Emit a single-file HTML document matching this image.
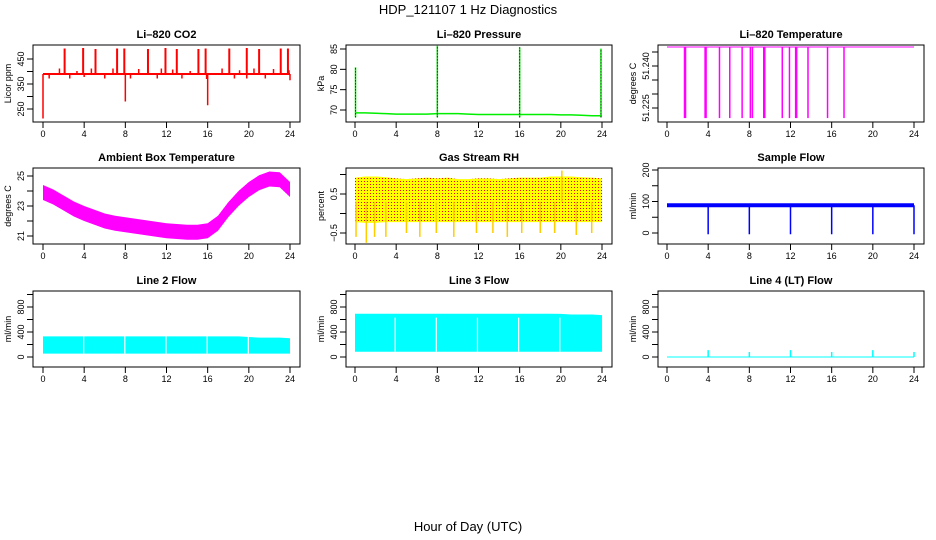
<!DOCTYPE html>
<html><head><meta charset="utf-8"><style>
body{margin:0;background:#fff;}
svg{display:block;font-family:"Liberation Sans",sans-serif;}
</style></head><body>
<svg id="fig" width="936" height="540" viewBox="0 0 936 540">
<defs>
<pattern id="rhpat" width="3" height="3" patternUnits="userSpaceOnUse">
<rect width="3" height="3" fill="#ffff00"/><rect x="1" y="1" width="1" height="1" fill="#ff0000"/>
</pattern>
</defs>
<text x="468" y="14" text-anchor="middle" font-size="13">HDP_121107  1 Hz Diagnostics</text>
<text x="468" y="531" text-anchor="middle" font-size="13">Hour of Day (UTC)</text>
</svg>
<script>
// ---- data (hours 0..24) ----
const xTicks = [0,4,8,12,16,20,24];
const hours = [0,1,2,3,4,5,6,7,8,9,10,11,12,13,14,15,16,17,18,19,20,21,22,23,24];
// CO2
const co2Base = 390;
const co2SpikeT = [2.1,3.9,5.1,7.2,7.9,10.2,11.9,13.0,15.1,15.8,18.1,19.8,21.0,23.1,23.8];
const co2SpikeV = [492,494,490,492,492,490,494,490,490,492,492,494,490,492,492];
const co2BumpT = [1.6,3.3,4.7,6.8,9.3,11.5,12.6,14.3,17.4,19.1,20.5,22.4,23.9];
const co2BumpV = [412,402,412,412,410,412,408,402,412,405,412,410,405];
const co2DipT = [0.0,0.6,2.6,4.0,6.0,8.0,8.5,11.1,13.5,15.9,16.0,18.6,19.8,21.6,24.0];
const co2DipV = [212,372,372,378,372,280,372,372,372,370,265,372,372,372,365];
// Pressure
const presBase = [69.3,69.3,69.2,69.1,69.0,69.0,69.0,69.0,69.1,69.1,69.1,69.0,68.9,68.9,68.9,68.9,68.9,68.9,68.9,68.9,68.8,68.8,68.7,68.6,68.6];
const presSpikeT = [0.05,8.0,16.0,23.9];
const presSpikeV = [80.5,85.8,85.4,85.1];
// Li-820 temperature
const tempBase = 51.2468;
const tempDropT = [1.7,1.8,3.7,3.8,5.1,6.1,7.3,8.1,8.3,9.4,9.5,11.2,11.9,12.5,12.6,13.7,15.6,17.2];
const tempDropV = 51.2214;
// Ambient box temperature
const ambCenter = [23.9,23.6,23.2,22.8,22.5,22.25,22.0,21.85,21.75,21.65,21.55,21.45,21.35,21.3,21.25,21.25,21.35,21.85,22.75,23.5,24.1,24.55,24.8,24.75,24.1];
const ambHalf = 0.5;
// Gas stream RH
const rhHi = [0.92,0.95,0.95,0.93,0.9,0.88,0.9,0.92,0.9,0.92,0.88,0.88,0.9,0.9,0.88,0.9,0.92,0.92,0.92,0.95,0.95,0.95,0.93,0.92,0.9];
const rhLo = [-0.22,-0.24,-0.24,-0.22,-0.22,-0.22,-0.22,-0.22,-0.22,-0.22,-0.22,-0.22,-0.22,-0.22,-0.22,-0.22,-0.22,-0.22,-0.22,-0.22,-0.22,-0.22,-0.22,-0.22,-0.22];
const rhSpikeT = [0.1,1.1,1.9,3.0,5.0,6.3,7.9,9.6,11.8,13.4,14.8,16.2,18.0,19.4,20.1,21.5,23.0];
const rhSpikeV = [-0.6,-0.75,-0.6,-0.6,-0.5,-0.6,-0.5,-0.6,-0.5,-0.5,-0.6,-0.5,-0.5,-0.5,1.1,-0.55,-0.5];
// Sample flow
const sfBase = 88;
const sfDropT = [4,8,12,16,20,24];
const sfDropV = -4;
// Line 2 flow
const l2Hi = [330,330,330,330,330,330,330,330,330,330,330,330,330,330,330,330,330,330,330,330,320,310,310,310,300];
const l2Lo = 55;
// Line 3 flow
const l3Hi = [693,693,693,693,693,693,693,693,693,693,693,693,693,693,693,693,693,693,693,693,690,680,680,680,670];
const l3Lo = 85;
const gapT = [3.9,7.9,11.9,15.9,19.9];
// Line 4 flow
const l4SpikeT = [4,8,12,16,20,24];
const l4SpikeV = [110,80,110,80,110,80];

const NS = "http://www.w3.org/2000/svg";
const svg = document.getElementById('fig');
function el(tag, attrs, parent){const e=document.createElementNS(NS,tag);for(const k in attrs)e.setAttribute(k,attrs[k]);(parent||svg).appendChild(e);return e;}

const cols = [{bl:33,br:300,d0:43,d24:290},{bl:346,br:612,d0:355,d24:602},{bl:658,br:924,d0:667,d24:914}];
const rows = [{bt:45,bb:122},{bt:168,bb:244},{bt:291,bb:367}];

function panel(c, r, title, ylab, v1, p1, v2, p2, yTicks, yLabels, name){
  const C=cols[c], R=rows[r];
  const g=el('g',{});
  
  
  const x=h=>C.d0+(C.d24-C.d0)*h/24;
  const y=v=>p1+(v-v1)*(p2-p1)/(v2-v1);
  const marks=el('g',{},g);
  
  
  const box=el('rect',{x:C.bl,y:R.bt,width:C.br-C.bl,height:R.bb-R.bt,fill:'none',stroke:'#000','stroke-width':1},g);
  
  
  const t=el('text',{x:(C.bl+C.br)/2,y:R.bt-7,'text-anchor':'middle','font-size':11,'font-weight':'bold'},g);
  t.textContent=title;
  
  
  const xa=el('g',{},g);
  
  
  el('line',{x1:x(0),x2:x(24),y1:R.bb,y2:R.bb,stroke:'#000'},xa);
  for(const h of xTicks){
    el('line',{x1:x(h),x2:x(h),y1:R.bb,y2:R.bb+6,stroke:'#000'},xa);
    const lt=el('text',{x:x(h),y:R.bb+15,'text-anchor':'middle','font-size':9},xa);
    lt.textContent=String(h);
  }
  const ya=el('g',{},g);
  
  
  for(let i=0;i<yTicks.length;i++){
    const yy=y(yTicks[i]);
    el('line',{x1:C.bl-6,x2:C.bl,y1:yy,y2:yy,stroke:'#000'},ya);
    if(yLabels[i]!==''){
      const lt=el('text',{x:C.bl-9,y:yy,'text-anchor':'middle','font-size':9,transform:`rotate(-90 ${C.bl-9} ${yy})`},ya);
      lt.textContent=yLabels[i];
    }
  }
  const yl=el('text',{x:C.bl-22,y:(R.bt+R.bb)/2,'text-anchor':'middle','font-size':9,transform:`rotate(-90 ${C.bl-22} ${(R.bt+R.bb)/2})`},g);
  yl.textContent=ylab;
  
  
  return {x,y,g:marks};
}
function vline(P,h,a,b,col,w,g){return el('line',{x1:P.x(h),x2:P.x(h),y1:P.y(a),y2:P.y(b),stroke:col,'stroke-width':w||1.5},g||P.g);}
function band(P,hi,lo,fill){
  let pts=[];
  hours.forEach((h,i)=>pts.push(P.x(h)+','+P.y(hi[i])));
  for(let i=hours.length-1;i>=0;i--)pts.push(P.x(hours[i])+','+P.y(Array.isArray(lo)?lo[i]:lo));
  return el('polygon',{points:pts.join(' '),fill:fill},P.g);
}

// CO2
{const P=panel(0,0,'Li\u2013820 CO2','Licor ppm',450,59,250,109,[250,300,350,400,450],['250','','350','','450'],'co2');
 el('line',{x1:P.x(0),x2:P.x(24),y1:P.y(co2Base),y2:P.y(co2Base),stroke:'#f00','stroke-width':2},P.g);
 co2SpikeT.forEach((t,i)=>vline(P,t,co2Base,co2SpikeV[i],'#f00',2));
 co2BumpT.forEach((t,i)=>vline(P,t,co2Base,co2BumpV[i],'#f00',1.5));
 co2DipT.forEach((t,i)=>vline(P,t,co2Base,co2DipV[i],'#f00',1.5));}
// Pressure
{const P=panel(1,0,'Li\u2013820 Pressure','kPa',85,49,70,110,[70,75,80,85],['70','75','80','85'],'pressure');
 el('polyline',{points:hours.map((h,i)=>P.x(h)+','+P.y(presBase[i])).join(' '),fill:'none',stroke:'#00ee00','stroke-width':1.5},P.g);
 presSpikeT.forEach((t,i)=>{vline(P,t,68.2,presSpikeV[i],'#00ee00',1.5);el('line',{x1:P.x(t),x2:P.x(t),y1:P.y(68.2),y2:P.y(presSpikeV[i]),stroke:'#000','stroke-width':1,'stroke-dasharray':'1 2'},P.g);});}
// Temperature
{const P=panel(2,0,'Li\u2013820 Temperature','degrees C',51.240,66,51.225,108,[51.225,51.230,51.235,51.240,51.245],['51.225','','','51.240',''],'li820-temperature');
 el('line',{x1:P.x(0),x2:P.x(24),y1:P.y(tempBase),y2:P.y(tempBase),stroke:'#f0f','stroke-width':1},P.g);
 tempDropT.forEach(t=>vline(P,t,tempBase,tempDropV,'#f0f',1.5));}
// Ambient
{const P=panel(0,1,'Ambient Box Temperature','degrees C',25,176,21,236,[21,22,23,24,25],['21','','23','','25'],'ambient-temperature');
 band(P,ambCenter.map(v=>v+ambHalf),ambCenter.map(v=>v-ambHalf),'#f0f');}
// RH
{const P=panel(1,1,'Gas Stream RH','percent',0.5,194,-0.5,233,[-0.5,0,0.5,1.0],['\u22120.5','','0.5',''],'gas-stream-rh');
 band(P,rhHi,rhLo,'url(#rhpat)');
 rhSpikeT.forEach((t,i)=>vline(P,t,0.3,rhSpikeV[i],'#ffcc00',1.5));}
// Sample flow
{const P=panel(2,1,'Sample Flow','ml/min',200,170,0,233,[0,50,100,150,200],['0','','100','','200'],'sample-flow');
 el('line',{x1:P.x(0),x2:P.x(24),y1:P.y(sfBase),y2:P.y(sfBase),stroke:'#00f','stroke-width':4},P.g);
 sfDropT.forEach(t=>vline(P,t,sfBase,sfDropV,'#00f',1.5));}
// Line 2
{const P=panel(0,2,'Line 2 Flow','ml/min',800,307,0,357,[0,200,400,600,800,1000],['0','','400','','800',''],'line2-flow');
 band(P,l2Hi,l2Lo,'#00ffff');
 gapT.forEach(t=>vline(P,t+0.05,l2Lo,350,'#fff',1.2));}
// Line 3
{const P=panel(1,2,'Line 3 Flow','ml/min',800,307,0,357,[0,200,400,600,800,1000],['0','','400','','800',''],'line3-flow');
 band(P,l3Hi,l3Lo,'#00ffff');
 gapT.forEach(t=>vline(P,t,l3Lo,630,'#fff',1.2));}
// Line 4
{const P=panel(2,2,'Line 4 (LT) Flow','ml/min',800,307,0,357,[0,200,400,600,800,1000],['0','','400','','800',''],'line4-flow');
 el('line',{x1:P.x(0),x2:P.x(24),y1:P.y(0),y2:P.y(0),stroke:'#00ffff','stroke-width':1},P.g);
 l4SpikeT.forEach((t,i)=>vline(P,t,0,l4SpikeV[i],'#00ffff',1.5));}
</script>
</body></html>
